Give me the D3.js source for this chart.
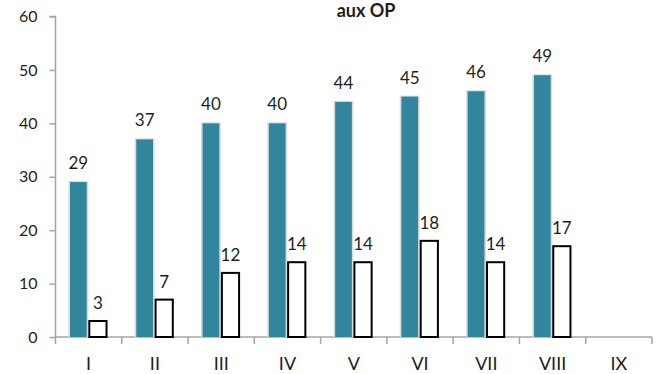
<!DOCTYPE html>
<html>
<head>
<meta charset="utf-8">
<script src="https://cdn.jsdelivr.net/npm/d3@7"></script>
<style>
  html, body { margin: 0; padding: 0; background: #fff; }
  svg { display: block; font-family: Lato, "Open Sans", sans-serif; }
</style>
</head>
<body>
<svg id="chart" width="662" height="374"></svg>
<script>
// Categories along the x axis
const categories = ["I", "II", "III", "IV", "V", "VI", "VII", "VIII", "IX"];
// First series (filled teal bars)
const seriesA = [29, 37, 40, 40, 44, 45, 46, 49, null];
// Second series (outlined white bars)
const seriesB = [3, 7, 12, 14, 14, 18, 14, 17, null];
// Y axis tick values
const yTicks = [0, 10, 20, 30, 40, 50, 60];
const title = "aux OP";

const svg = d3.select("#chart");
const plotLeft = 55.5, plotRight = 652, plotTop = 16.5, plotBottom = 337;

const x = d3.scaleBand().domain(categories).range([plotLeft, plotRight]).padding(0);
const y = d3.scaleLinear().domain([0, 60]).range([plotBottom, plotTop]);
const bw = x.bandwidth();

const axisColor = "#a6a6a6";
const textColor = "#1e1e1e";
const teal = "#31859c";

// Title
svg.append("text")
  .attr("x", 366).attr("y", 17)
  .attr("text-anchor", "middle")
  .attr("font-size", 18).attr("font-weight", 700)
  .attr("fill", textColor)
  .text(title);

// Y axis
const yAxis = d3.axisLeft(y).tickValues(yTicks).tickSize(6).tickPadding(12);
const gy = svg.append("g").attr("transform", `translate(${plotLeft},0)`).call(yAxis);
gy.select(".domain").attr("stroke", axisColor).attr("stroke-width", 1.5).attr("d", `M-6,${plotTop}H0V${plotBottom}`);
gy.selectAll(".tick line").attr("stroke", axisColor).attr("stroke-width", 1.5);
gy.selectAll(".tick text").attr("font-size", 16).attr("fill", textColor)
  .attr("font-family", "Lato, sans-serif");

// X axis: baseline with ticks at category boundaries
const xAxis = d3.axisBottom(x).tickSize(0).tickPadding(20);
const gx = svg.append("g").attr("transform", `translate(0,${plotBottom})`).call(xAxis);
gx.select(".domain").attr("stroke", axisColor).attr("stroke-width", 1.5).attr("d", `M${plotLeft},0H${plotRight}`);
gx.selectAll(".tick text").attr("font-size", 18).attr("fill", textColor)
  .attr("font-family", "Lato, sans-serif").attr("dy", "0.71em");
const bounds = categories.map(c => x(c)).concat([x(categories[categories.length - 1]) + bw]);
gx.selectAll("line.bound").data(bounds).join("line")
  .attr("class", "bound")
  .attr("x1", d => d).attr("x2", d => d)
  .attr("y1", 0).attr("y2", 7)
  .attr("stroke", axisColor).attr("stroke-width", 1.5);

// Bar geometry inside each category band
const aOff = bw * 0.219, aW = bw * 0.252;
const bOff = bw * 0.495, bW = bw * 0.29;

const dataA = categories.map((c, i) => ({ c, v: seriesA[i] })).filter(d => d.v != null);
const dataB = categories.map((c, i) => ({ c, v: seriesB[i] })).filter(d => d.v != null);

// Soft halo behind teal bars
svg.append("g").selectAll("rect").data(dataA).join("rect")
  .attr("x", d => x(d.c) + aOff - 1.6)
  .attr("y", d => y(d.v) - 1)
  .attr("width", aW + 3.2)
  .attr("height", d => plotBottom - y(d.v) + 1)
  .attr("fill", "#dadada");

svg.append("g").selectAll("rect").data(dataA).join("rect")
  .attr("x", d => x(d.c) + aOff)
  .attr("y", d => y(d.v))
  .attr("width", aW)
  .attr("height", d => plotBottom - y(d.v))
  .attr("fill", teal);

svg.append("g").selectAll("rect").data(dataB).join("rect")
  .attr("x", d => x(d.c) + bOff + 1)
  .attr("y", d => y(d.v))
  .attr("width", bW - 2)
  .attr("height", d => plotBottom - y(d.v))
  .attr("fill", "#fff")
  .attr("stroke", "#000")
  .attr("stroke-width", 2);

// Value labels
svg.append("g").selectAll("text").data(dataA).join("text")
  .attr("x", d => x(d.c) + aOff + aW / 2)
  .attr("y", d => y(d.v) - 13)
  .attr("text-anchor", "middle")
  .attr("font-size", 17).attr("fill", textColor)
  .text(d => d.v);

svg.append("g").selectAll("text").data(dataB).join("text")
  .attr("x", d => x(d.c) + bOff + bW / 2)
  .attr("y", d => y(d.v) - 12)
  .attr("text-anchor", "middle")
  .attr("font-size", 17).attr("fill", textColor)
  .text(d => d.v);
</script>
</body>
</html>
